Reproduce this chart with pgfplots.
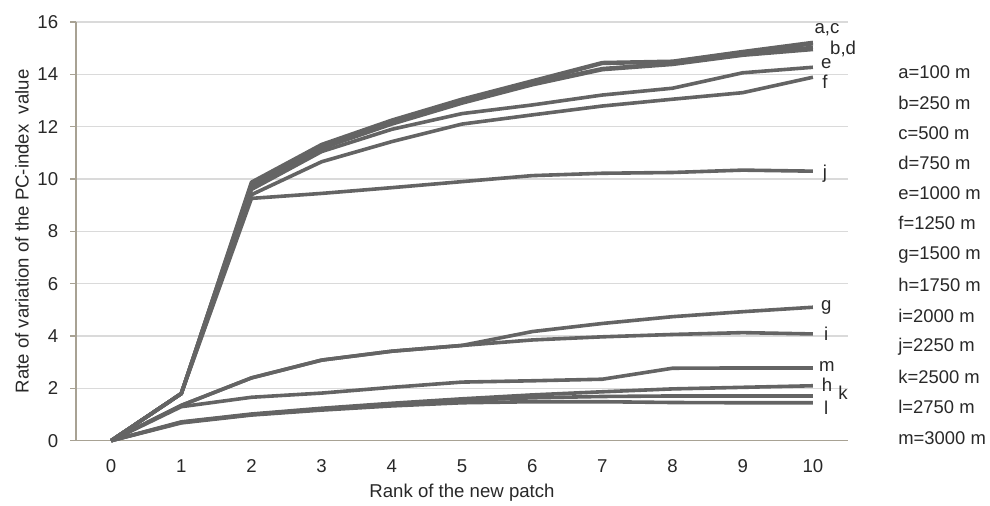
\documentclass[border=0pt]{standalone}
\usepackage{fontspec}
\setmainfont{Liberation Sans}
\usepackage{pgfplots}
\usepackage{pgfplotstable}
\pgfplotsset{compat=1.18}
\definecolor{ln}{RGB}{100,100,100}
\definecolor{gridc}{RGB}{218,218,218}
\definecolor{axc}{RGB}{168,162,148}
\definecolor{txt}{RGB}{40,40,40}

% rate of variation per rank, one column per distance
\pgfplotstableread{
x  a     c     b     d     e     f     j     g    i    m    h    k    l
0  0     0     0     0     0     0     0     0    0    0    0    0    0
1  1.8   1.8   1.8   1.8   1.8   1.8   1.8   1.35 1.35 1.3  0.72 0.7  0.68
2  9.88  9.83  9.78  9.72  9.6   9.4   9.26  2.4  2.4  1.66 1.02 1.0  0.98
3  11.32 11.27 11.22 11.17 11.05 10.66 9.45  3.08 3.08 1.82 1.24 1.2  1.17
4  12.25 12.2  12.15 12.1  11.9  11.43 9.67  3.42 3.42 2.04 1.43 1.38 1.33
5  13.05 13.0  12.95 12.9  12.5  12.1  9.9   3.64 3.64 2.24 1.6  1.55 1.45
6  13.75 13.7  13.65 13.6  12.83 12.45 10.13 4.17 3.85 2.29 1.75 1.64 1.49
7  14.45 14.42 14.22 14.18 13.21 12.79 10.22 4.48 3.97 2.35 1.87 1.69 1.49
8  14.5  14.47 14.42 14.38 13.47 13.05 10.25 4.74 4.06 2.77 1.98 1.71 1.46
9  14.87 14.83 14.78 14.73 14.06 13.3  10.34 4.93 4.13 2.78 2.04 1.71 1.45
10 15.22 15.17 15.03 14.95 14.27 13.89 10.3  5.1  4.08 2.78 2.1  1.71 1.45
}\data

\begin{document}
\begin{tikzpicture}[x=1pt,y=1pt]
\useasboundingbox (0,0) rectangle (495,-252.5);
\begin{axis}[
  at={(38pt,-220.35pt)}, anchor=south west,
  scale only axis, width=386pt, height=209.35pt,
  xmin=-0.5, xmax=10.5, ymin=0, ymax=16,
  xtick={0,...,10}, ytick={0,2,...,16},
  axis lines*=left,
  axis line style={-, draw=axc, line width=0.6pt},
  ymajorgrids,
  grid style={draw=gridc, line width=0.6pt},
  tick align=outside, major tick length=3pt,
  xtick style={draw=none},
  ytick style={draw=axc, line width=0.6pt},
  /pgf/number format/assume math mode=true,
  tick label style={font=\fontsize{9.3}{11}\selectfont, text=txt},
  xticklabel style={yshift=-3pt},
  yticklabel style={xshift=-2.4pt},
  label style={font=\fontsize{9.3}{11}\selectfont, text=txt},
  xlabel={Rank of the new patch},
  ylabel={Rate of variation of the PC-index \ value},
  xlabel style={at={(axis description cs:0.5,-0.123)}, anchor=center},
  ylabel style={at={(axis description cs:-0.07,0.5)}, anchor=center},
  ser/.style={draw=ln, solid, line width=1.8pt, mark=none, line join=round},
  clip=false,
]
\addplot[ser] table[x=x,y=l]{\data};
\addplot[ser] table[x=x,y=k]{\data};
\addplot[ser] table[x=x,y=h]{\data};
\addplot[ser] table[x=x,y=m]{\data};
\addplot[ser] table[x=x,y=i]{\data};
\addplot[ser] table[x=x,y=g]{\data};
\addplot[ser] table[x=x,y=j]{\data};
\addplot[ser] table[x=x,y=f]{\data};
\addplot[ser] table[x=x,y=e]{\data};
\addplot[ser] table[x=x,y=d]{\data};
\addplot[ser] table[x=x,y=b]{\data};
\addplot[ser] table[x=x,y=c]{\data};
\addplot[ser] table[x=x,y=a]{\data};

\begin{scope}[every node/.style={font=\fontsize{9.3}{11}\selectfont, text=txt, inner sep=0pt}]
\node at (axis cs:10.2,15.69) {a,c};
\node at (axis cs:10.43,14.97) {b,d};
\node at (axis cs:10.19,14.43) {e};
\node at (axis cs:10.17,13.7) {f};
\node at (axis cs:10.17,10.2) {j};
\node at (axis cs:10.19,5.1) {g};
\node at (axis cs:10.19,4.1) {i};
\node at (axis cs:10.2,2.83) {m};
\node at (axis cs:10.2,2.13) {h};
\node at (axis cs:10.43,1.82) {k};
\node at (axis cs:10.19,1.25) {l};
\end{scope}
\end{axis}

\begin{scope}[every node/.style={font=\fontsize{9.2}{10}\selectfont, text=txt, anchor=west, inner sep=0pt}]
\node at (449,-36) {a=100 m};
\node at (449,-51.5) {b=250 m};
\node at (449,-66.5) {c=500 m};
\node at (449,-81.5) {d=750 m};
\node at (449,-96.5) {e=1000 m};
\node at (449,-111.5) {f=1250 m};
\node at (449,-127.5) {g=1500 m};
\node at (449,-142.5) {h=1750 m};
\node at (449,-158) {i=2000 m};
\node at (449,-173.5) {j=2250 m};
\node at (449,-188.5) {k=2500 m};
\node at (449,-203.5) {l=2750 m};
\node at (449,-219) {m=3000 m};
\end{scope}
\end{tikzpicture}
\end{document}
